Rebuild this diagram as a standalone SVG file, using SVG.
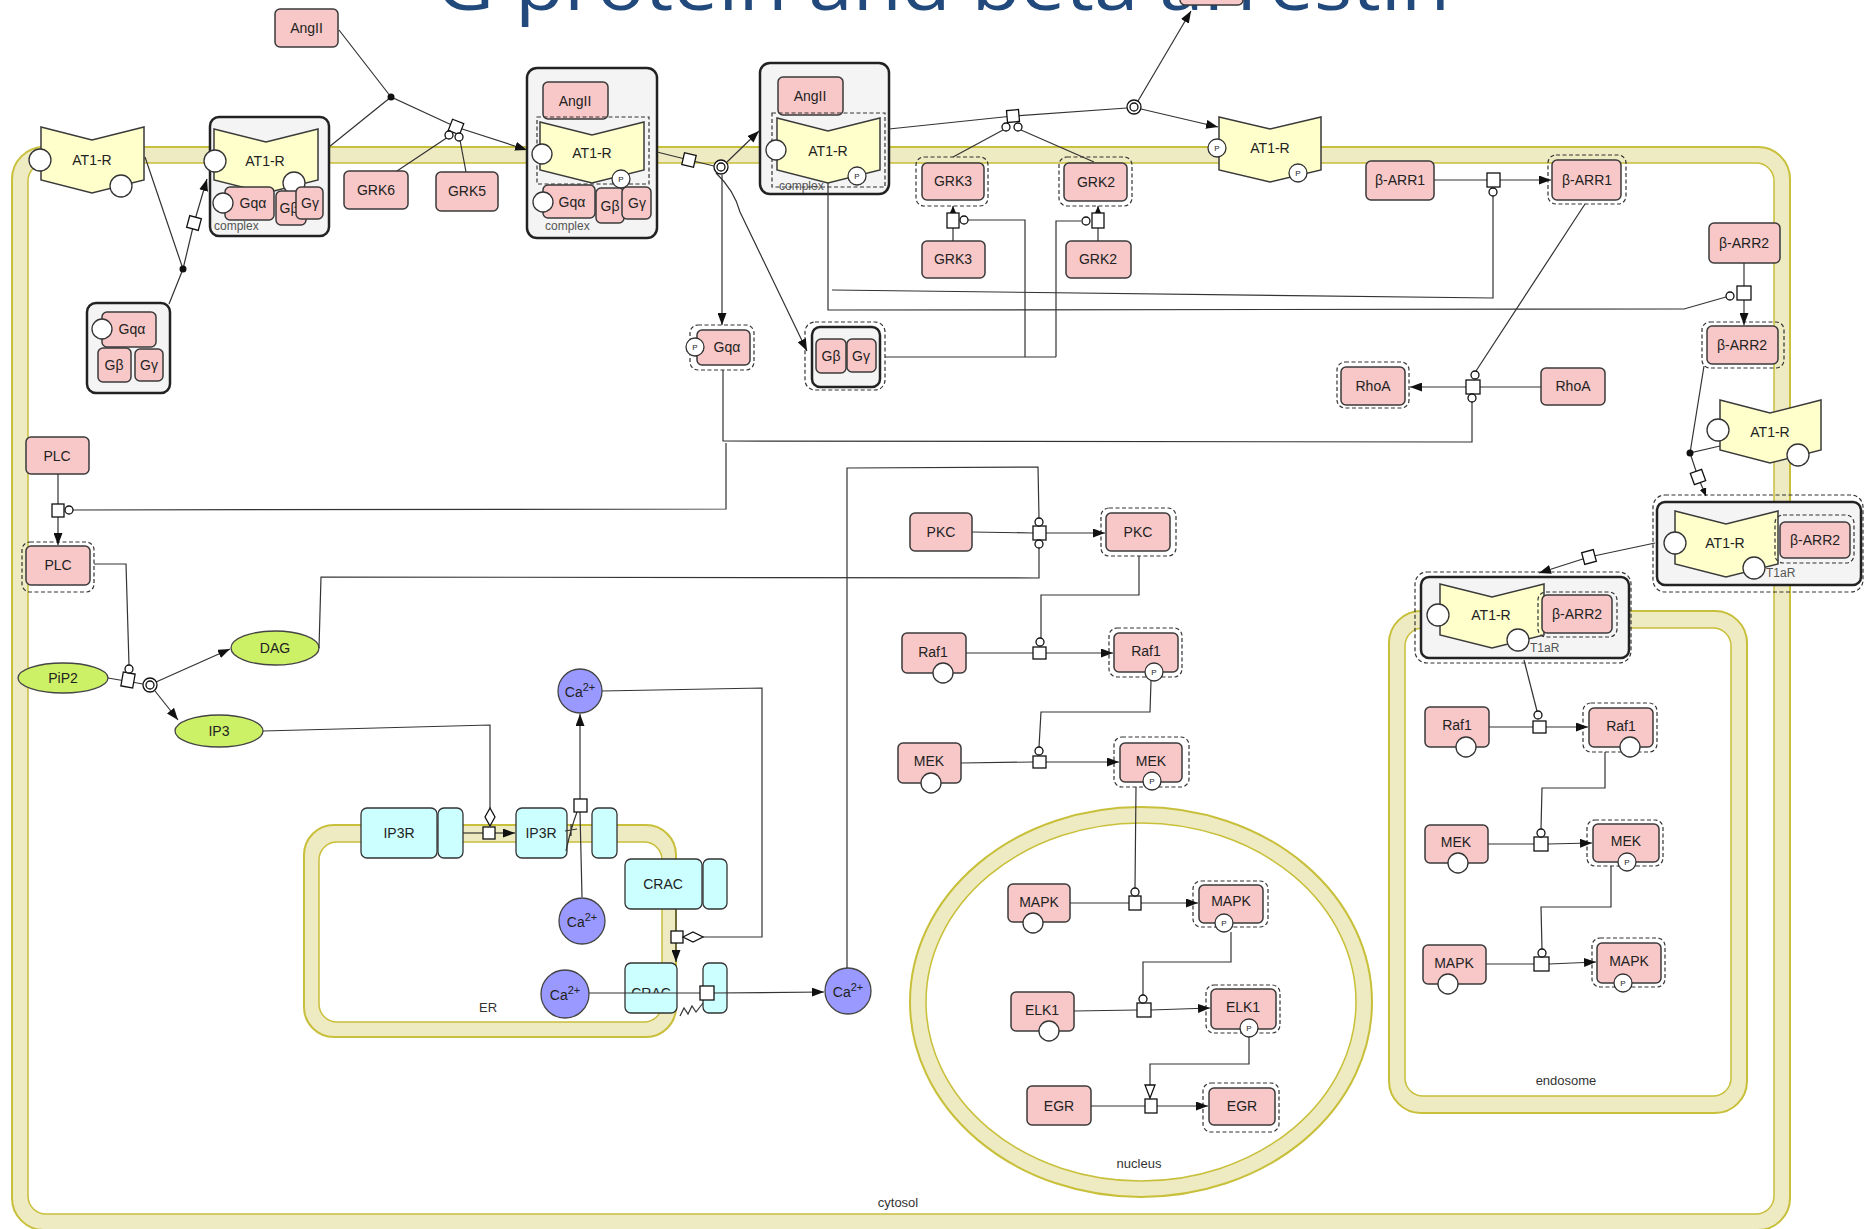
<svg xmlns="http://www.w3.org/2000/svg" width="1866" height="1229" viewBox="0 0 1866 1229">
<defs>
<style>
.mo{fill:#EEEBC2;stroke:#C8BF3A;stroke-width:2}
.mi{fill:#fff;stroke:#C8BF3A;stroke-width:1.5}
.mm{fill:#F8C8C8;stroke:#3a3a3a;stroke-width:1.5}
.act{fill:none;stroke:#333;stroke-width:1.2;stroke-dasharray:4 2.5}
.rec{fill:#FFFFCC;stroke:#3a3a3a;stroke-width:1.5}
.cx{fill:#F4F4F4;stroke:#222;stroke-width:2.5}
.ch{fill:#CCFFFF;stroke:#333;stroke-width:1.3}
.sm{fill:#CCF066;stroke:#444;stroke-width:1.3}
.ion{fill:#9999FF;stroke:#444;stroke-width:1.3}
.sv{fill:#fff;stroke:#333;stroke-width:1.3}
.ln{fill:none;stroke:#333;stroke-width:1.2}
.pn{fill:#fff;stroke:#111;stroke-width:1.3}
.dot{fill:#111}
.t{font-family:"Liberation Sans",Arial,sans-serif;font-size:14px;fill:#222;text-anchor:middle}
.ts{font-family:"Liberation Sans",Arial,sans-serif;font-size:12px;fill:#555}
.tp{font-family:"Liberation Sans",Arial,sans-serif;font-size:8px;fill:#222;text-anchor:middle}
.tc{font-family:"Liberation Sans",Arial,sans-serif;font-size:13px;fill:#333;text-anchor:middle}
</style>
<marker id="arr" viewBox="0 0 12 9" refX="12" refY="4.5" markerWidth="12" markerHeight="9" markerUnits="userSpaceOnUse" orient="auto"><path d="M0,0 L12,4.5 L0,9 z" fill="#111"/></marker>
<marker id="arrs" viewBox="0 0 8 7" refX="8" refY="3.5" markerWidth="8" markerHeight="7" markerUnits="userSpaceOnUse" orient="auto"><path d="M0,0 L8,3.5 L0,7 z" fill="#111"/></marker>
<clipPath id="cracclip"><rect x="620" y="960" width="60" height="33"/></clipPath>
</defs>
<rect width="1866" height="1229" fill="#fff"/>

<text x="436" y="10" font-family="Open Sans, Liberation Sans, sans-serif" font-size="72" fill="#21497C" textLength="1014" lengthAdjust="spacingAndGlyphs">G protein and beta arrestin</text>

<g id="compartments">
<g id="cytosol"><rect class="mo" x="12" y="147" width="1778" height="1083" rx="32"/><rect class="mi" x="28" y="163" width="1746" height="1051" rx="18"/><text class="tc" x="898" y="1207">cytosol</text></g>
<g id="er"><rect class="mo" x="304" y="825" width="372" height="212" rx="30"/><rect class="mi" x="319" y="842" width="343" height="180" rx="18"/><text class="tc" x="488" y="1012">ER</text></g>
<g id="nucleus"><ellipse class="mo" cx="1141" cy="1002" rx="231" ry="195"/><ellipse class="mi" cx="1141" cy="1002" rx="215" ry="179"/><text class="tc" x="1139" y="1168">nucleus</text></g>
<g id="endosome"><rect class="mo" x="1389" y="611" width="358" height="502" rx="32"/><rect class="mi" x="1405" y="628" width="326" height="468" rx="18"/><text class="tc" x="1566" y="1085">endosome</text></g>
</g>

<g id="nodes">
<g id="angII_1"><rect class="mm" x="275" y="9" width="63" height="38" rx="5"/><text class="t" x="306.5" y="33">AngII</text></g>
<g id="at1r_1"><polygon class="rec" points="41,127 92,140 144,127 144,180 92,193 41,180"/><text class="t" x="92" y="165">AT1-R</text><circle class="sv" cx="40" cy="160" r="11"/><circle class="sv" cx="121" cy="186" r="11"/></g>
<g id="complex_1"><rect class="cx" x="210" y="117" width="119" height="119" rx="9"/><text class="ts" x="214" y="230">complex</text>
<polygon class="rec" points="214,129 266,142 318,129 318,180 266,193 214,180"/><text class="t" x="265" y="166">AT1-R</text><circle class="sv" cx="215" cy="161" r="11"/><circle class="sv" cx="294" cy="183" r="11"/>
<rect class="mm" x="276" y="191" width="30" height="34" rx="5"/><text class="t" x="289" y="213">Gβ</text>
<rect class="mm" x="296" y="187" width="27" height="32" rx="5"/><text class="t" x="310" y="208">Gγ</text>
<rect class="mm" x="225" y="187" width="49" height="33" rx="5"/><text class="t" x="253" y="208">Gqα</text><circle class="sv" cx="223" cy="203" r="10"/></g>
<g id="complex_gq"><rect class="cx" x="87" y="303" width="83" height="90" rx="9"/>
<rect class="mm" x="102" y="312" width="54" height="35" rx="5"/><text class="t" x="132" y="334">Gqα</text><circle class="sv" cx="102" cy="329" r="10"/>
<rect class="mm" x="98" y="348" width="33" height="34" rx="5"/><text class="t" x="114" y="370">Gβ</text>
<rect class="mm" x="135" y="349" width="28" height="32" rx="5"/><text class="t" x="149" y="370">Gγ</text></g>
<g id="grk6"><rect class="mm" x="344" y="171" width="64" height="38" rx="5"/><text class="t" x="376" y="195">GRK6</text></g>
<g id="grk5"><rect class="mm" x="436" y="172" width="62" height="39" rx="5"/><text class="t" x="467" y="196">GRK5</text></g>
<g id="complex_2"><rect class="cx" x="527" y="68" width="130" height="170" rx="10"/><text class="ts" x="545" y="230">complex</text>
<rect class="mm" x="543" y="82" width="65" height="37" rx="5"/><text class="t" x="575" y="106">AngII</text>
<rect class="act" x="537" y="117" width="112" height="67"/>
<polygon class="rec" points="540,122 592,135 644,122 644,170 592,183 540,170"/><text class="t" x="592" y="158">AT1-R</text><circle class="sv" cx="542" cy="154" r="10"/><circle class="sv" cx="621" cy="179" r="9"/><text class="tp" x="621" y="182">P</text>
<rect class="mm" x="596" y="188" width="28" height="35" rx="5"/><text class="t" x="610" y="211">Gβ</text>
<rect class="mm" x="622" y="187" width="29" height="32" rx="5"/><text class="t" x="637" y="208">Gγ</text>
<rect class="mm" x="543" y="185" width="52" height="33" rx="5"/><text class="t" x="572" y="207">Gqα</text><circle class="sv" cx="543" cy="202" r="10"/></g>
<g id="complex_3"><rect class="cx" x="760" y="63" width="129" height="131" rx="10"/><text class="ts" x="779" y="190">complex</text>
<rect class="mm" x="778" y="77" width="65" height="38" rx="5"/><text class="t" x="810" y="101">AngII</text>
<rect class="act" x="772" y="113" width="113" height="74"/>
<polygon class="rec" points="777,118 828,131 880,118 880,170 828,183 777,170"/><text class="t" x="828" y="156">AT1-R</text><circle class="sv" cx="776" cy="150" r="10"/><circle class="sv" cx="857" cy="176" r="9"/><text class="tp" x="857" y="179">P</text></g>
<g id="gqa_p"><rect class="act" x="690" y="325" width="64" height="45" rx="8"/><rect class="mm" x="697" y="330" width="53" height="35" rx="5"/><text class="t" x="727" y="352">Gqα</text><circle class="sv" cx="695" cy="347" r="9"/><text class="tp" x="695" y="350">P</text></g>
<g id="gbg"><rect class="act" x="805" y="322" width="80" height="68" rx="10"/><rect class="cx" x="812" y="327" width="68" height="60" rx="8"/><rect class="mm" x="816" y="339" width="30" height="34" rx="5"/><text class="t" x="831" y="361">Gβ</text><rect class="mm" x="847" y="339" width="29" height="33" rx="5"/><text class="t" x="861" y="361">Gγ</text></g>
<g id="grk3_a"><rect class="act" x="916" y="157" width="72" height="49" rx="8"/><rect class="mm" x="922" y="163" width="62" height="37" rx="5"/><text class="t" x="953" y="186">GRK3</text></g>
<g id="grk3"><rect class="mm" x="922" y="241" width="63" height="37" rx="5"/><text class="t" x="953" y="264">GRK3</text></g>
<g id="grk2_a"><rect class="act" x="1059" y="157" width="73" height="49" rx="8"/><rect class="mm" x="1064" y="163" width="63" height="38" rx="5"/><text class="t" x="1096" y="187">GRK2</text></g>
<g id="grk2"><rect class="mm" x="1066" y="241" width="65" height="37" rx="5"/><text class="t" x="1098" y="264">GRK2</text></g>
<g id="angII_top"><rect class="mm" x="1180" y="-33" width="63" height="38" rx="5"/></g>
<g id="at1r_p"><polygon class="rec" points="1219,117 1270,129 1321,117 1321,170 1270,182 1219,170"/><text class="t" x="1270" y="153">AT1-R</text><circle class="sv" cx="1217" cy="148" r="9"/><text class="tp" x="1217" y="151">P</text><circle class="sv" cx="1298" cy="173" r="9"/><text class="tp" x="1298" y="176">P</text></g>
<g id="barr1"><rect class="mm" x="1366" y="161" width="68" height="39" rx="5"/><text class="t" x="1400" y="185">β-ARR1</text></g>
<g id="barr1_a"><rect class="act" x="1548" y="155" width="78" height="49" rx="8"/><rect class="mm" x="1552" y="160" width="69" height="40" rx="5"/><text class="t" x="1587" y="185">β-ARR1</text></g>
<g id="barr2"><rect class="mm" x="1709" y="223" width="71" height="40" rx="5"/><text class="t" x="1744" y="248">β-ARR2</text></g>
<g id="barr2_a"><rect class="act" x="1702" y="322" width="82" height="46" rx="8"/><rect class="mm" x="1707" y="326" width="71" height="38" rx="5"/><text class="t" x="1742" y="350">β-ARR2</text></g>
<g id="rhoa_a"><rect class="act" x="1337" y="362" width="72" height="46" rx="8"/><rect class="mm" x="1341" y="367" width="64" height="38" rx="5"/><text class="t" x="1373" y="391">RhoA</text></g>
<g id="rhoa"><rect class="mm" x="1541" y="368" width="64" height="37" rx="5"/><text class="t" x="1573" y="391">RhoA</text></g>
<g id="at1r_2"><polygon class="rec" points="1720,400 1770,413 1821,400 1821,450 1770,463 1720,450"/><text class="t" x="1770" y="437">AT1-R</text><circle class="sv" cx="1718" cy="430" r="11"/><circle class="sv" cx="1798" cy="455" r="11"/></g>
<g id="complex_r"><rect class="act" x="1653" y="495" width="210" height="97" rx="12"/><rect class="cx" x="1657" y="502" width="204" height="83" rx="8"/><text class="ts" x="1766" y="577">T1aR</text>
<polygon class="rec" points="1675,511 1726,524 1778,511 1778,564 1726,577 1675,564"/><text class="t" x="1725" y="548">AT1-R</text><circle class="sv" cx="1675" cy="543" r="11"/><circle class="sv" cx="1754" cy="568" r="11"/>
<rect class="act" x="1775" y="515" width="79" height="48" rx="8"/><rect class="mm" x="1780" y="522" width="70" height="36" rx="5"/><text class="t" x="1815" y="545">β-ARR2</text></g>
<g id="complex_l"><rect class="act" x="1415" y="572" width="216" height="91" rx="12"/><rect class="cx" x="1421" y="577" width="208" height="81" rx="8"/><text class="ts" x="1530" y="652">T1aR</text>
<polygon class="rec" points="1440,584 1492,597 1544,584 1544,635 1492,648 1440,635"/><text class="t" x="1491" y="620">AT1-R</text><circle class="sv" cx="1438" cy="615" r="11"/><circle class="sv" cx="1518" cy="640" r="11"/>
<rect class="act" x="1538" y="592" width="79" height="45" rx="8"/><rect class="mm" x="1542" y="595" width="70" height="38" rx="5"/><text class="t" x="1577" y="619">β-ARR2</text></g>
<g id="plc"><rect class="mm" x="26" y="437" width="63" height="37" rx="5"/><text class="t" x="57" y="461">PLC</text></g>
<g id="plc_a"><rect class="act" x="22" y="542" width="72" height="50" rx="8"/><rect class="mm" x="26" y="546" width="64" height="39" rx="5"/><text class="t" x="58" y="570">PLC</text></g>
<g id="pip2"><ellipse class="sm" cx="63" cy="678" rx="45" ry="15"/><text class="t" x="63" y="683">PiP2</text></g>
<g id="dag"><ellipse class="sm" cx="275" cy="648" rx="44" ry="17"/><text class="t" x="275" y="653">DAG</text></g>
<g id="ip3"><ellipse class="sm" cx="219" cy="731" rx="44" ry="16"/><text class="t" x="219" y="736">IP3</text></g>
<g id="ca_c1"><circle class="ion" cx="580" cy="691" r="22"/><text class="t" x="580" y="697">Ca<tspan dy="-6" font-size="11">2+</tspan></text></g>
<g id="ip3r_1"><rect class="ch" x="361" y="808" width="76" height="50" rx="6"/><rect class="ch" x="438" y="808" width="25" height="50" rx="6"/><text class="t" x="399" y="838">IP3R</text></g>
<g id="ip3r_2"><rect class="ch" x="516" y="808" width="51" height="50" rx="6"/><rect class="ch" x="592" y="808" width="25" height="50" rx="6"/><text class="t" x="541" y="838">IP3R</text></g>
<g id="ca_er1"><circle class="ion" cx="582" cy="921" r="23"/><text class="t" x="582" y="927">Ca<tspan dy="-6" font-size="11">2+</tspan></text></g>
<g id="crac_1"><rect class="ch" x="625" y="859" width="77" height="50" rx="6"/><rect class="ch" x="703" y="859" width="24" height="50" rx="6"/><text class="t" x="663" y="889">CRAC</text></g>
<g id="crac_2"><rect class="ch" x="625" y="963" width="52" height="50" rx="6"/><rect class="ch" x="703" y="963" width="24" height="50" rx="6"/><text class="t" x="651" y="998" clip-path="url(#cracclip)">CRAC</text></g>
<g id="ca_er2"><circle class="ion" cx="565" cy="994" r="24"/><text class="t" x="565" y="1000">Ca<tspan dy="-6" font-size="11">2+</tspan></text></g>
<g id="ca_c2"><circle class="ion" cx="848" cy="991" r="23"/><text class="t" x="848" y="997">Ca<tspan dy="-6" font-size="11">2+</tspan></text></g>
<g id="pkc"><rect class="mm" x="910" y="513" width="62" height="38" rx="5"/><text class="t" x="941" y="537">PKC</text></g>
<g id="pkc_a"><rect class="act" x="1101" y="508" width="75" height="48" rx="8"/><rect class="mm" x="1106" y="513" width="64" height="38" rx="5"/><text class="t" x="1138" y="537">PKC</text></g>
<g id="raf1"><rect class="mm" x="902" y="633" width="64" height="40" rx="5"/><text class="t" x="933" y="657">Raf1</text><circle class="sv" cx="943" cy="673" r="10"/></g>
<g id="raf1_a"><rect class="act" x="1109" y="628" width="73" height="49" rx="8"/><rect class="mm" x="1114" y="633" width="64" height="39" rx="5"/><text class="t" x="1146" y="656">Raf1</text><circle class="sv" cx="1154" cy="672" r="9"/><text class="tp" x="1154" y="675">P</text></g>
<g id="mek"><rect class="mm" x="898" y="743" width="63" height="40" rx="5"/><text class="t" x="929" y="766">MEK</text><circle class="sv" cx="931" cy="783" r="10"/></g>
<g id="mek_a"><rect class="act" x="1114" y="737" width="75" height="50" rx="8"/><rect class="mm" x="1120" y="743" width="62" height="39" rx="5"/><text class="t" x="1151" y="766">MEK</text><circle class="sv" cx="1152" cy="781" r="9"/><text class="tp" x="1152" y="784">P</text></g>
<g id="mapk_n"><rect class="mm" x="1008" y="884" width="62" height="38" rx="5"/><text class="t" x="1039" y="907">MAPK</text><circle class="sv" cx="1033" cy="923" r="10"/></g>
<g id="mapk_na"><rect class="act" x="1193" y="881" width="75" height="46" rx="8"/><rect class="mm" x="1199" y="885" width="64" height="38" rx="5"/><text class="t" x="1231" y="906">MAPK</text><circle class="sv" cx="1224" cy="923" r="9"/><text class="tp" x="1224" y="926">P</text></g>
<g id="elk1"><rect class="mm" x="1011" y="992" width="63" height="39" rx="5"/><text class="t" x="1042" y="1015">ELK1</text><circle class="sv" cx="1049" cy="1031" r="10"/></g>
<g id="elk1_a"><rect class="act" x="1206" y="985" width="74" height="48" rx="8"/><rect class="mm" x="1211" y="989" width="65" height="40" rx="5"/><text class="t" x="1243" y="1012">ELK1</text><circle class="sv" cx="1249" cy="1028" r="9"/><text class="tp" x="1249" y="1031">P</text></g>
<g id="egr"><rect class="mm" x="1027" y="1086" width="64" height="39" rx="5"/><text class="t" x="1059" y="1111">EGR</text></g>
<g id="egr_a"><rect class="act" x="1203" y="1083" width="76" height="49" rx="8"/><rect class="mm" x="1209" y="1088" width="66" height="37" rx="5"/><text class="t" x="1242" y="1111">EGR</text></g>
<g id="raf1_e"><rect class="mm" x="1425" y="707" width="64" height="40" rx="5"/><text class="t" x="1457" y="730">Raf1</text><circle class="sv" cx="1466" cy="747" r="10"/></g>
<g id="raf1_ea"><rect class="act" x="1583" y="703" width="74" height="49" rx="8"/><rect class="mm" x="1589" y="708" width="64" height="39" rx="5"/><text class="t" x="1621" y="731">Raf1</text><circle class="sv" cx="1630" cy="747" r="10"/></g>
<g id="mek_e"><rect class="mm" x="1425" y="825" width="63" height="38" rx="5"/><text class="t" x="1456" y="847">MEK</text><circle class="sv" cx="1458" cy="863" r="10"/></g>
<g id="mek_ea"><rect class="act" x="1587" y="820" width="76" height="46" rx="8"/><rect class="mm" x="1593" y="824" width="66" height="38" rx="5"/><text class="t" x="1626" y="846">MEK</text><circle class="sv" cx="1627" cy="862" r="9"/><text class="tp" x="1627" y="865">P</text></g>
<g id="mapk_e"><rect class="mm" x="1423" y="945" width="63" height="39" rx="5"/><text class="t" x="1454" y="968">MAPK</text><circle class="sv" cx="1448" cy="984" r="10"/></g>
<g id="mapk_ea"><rect class="act" x="1592" y="938" width="73" height="49" rx="8"/><rect class="mm" x="1597" y="943" width="64" height="40" rx="5"/><text class="t" x="1629" y="966">MAPK</text><circle class="sv" cx="1623" cy="983" r="9"/><text class="tp" x="1623" y="986">P</text></g>
</g>

<g id="connectors">
<path class="ln" d="M339 30 L391 97 M329 147 L391 97 L456 127"/>
<path class="ln" d="M456 127 L527 150" marker-end="url(#arr)"/>
<path class="ln" d="M397 171 L448 137 M466 172 L460 140"/>
<path class="ln" d="M145 157 L183 269 M169 304 L183 269 L194 223"/>
<path class="ln" d="M194 223 L207 179" marker-end="url(#arr)"/>
<path class="ln" d="M657 152 L689 160 L714 166"/>
<path class="ln" d="M727 162 L759 131" marker-end="url(#arr)"/>
<path class="ln" d="M722 175 L722 325" marker-end="url(#arr)"/>
<path class="ln" d="M716 173 Q734 190 740 212 L807 351" marker-end="url(#arr)"/>
<path class="ln" d="M889 129 L1013 116 L1127 108"/>
<path class="ln" d="M1138 101 L1191 11" marker-end="url(#arr)"/>
<path class="ln" d="M1141 109 L1218 127" marker-end="url(#arr)"/>
<path class="ln" d="M953 157 L1003 130 M1094 162 L1021 130"/>
<path class="ln" d="M953 241 L953 227 M1098 241 L1098 227"/>
<path class="ln" d="M953 213 L953 206" marker-end="url(#arrs)"/>
<path class="ln" d="M1098 213 L1098 206" marker-end="url(#arrs)"/>
<path class="ln" d="M885 357 L1056 357 M1025 357 L1025 220 L968 220 M1056 357 L1056 221 L1081 221"/>
<path class="ln" d="M1434 180 L1487 180"/>
<path class="ln" d="M1500 180 L1551 180" marker-end="url(#arr)"/>
<path class="ln" d="M1493 196 L1493 298 L832 290 M828 183 L828 310 L1684 309 L1726 297"/>
<path class="ln" d="M1744 263 L1744 287"/>
<path class="ln" d="M1744 300 L1744 325" marker-end="url(#arr)"/>
<path class="ln" d="M1541 387 L1480 387"/>
<path class="ln" d="M1466 387 L1410 387" marker-end="url(#arr)"/>
<path class="ln" d="M1585 204 L1476 371 M1472 402 L1472 442 L723 441 L723 370 M726 443 L726 509 L73 510"/>
<path class="ln" d="M1704 366 L1690 453 M1720 446 L1690 453 L1698 477"/>
<path class="ln" d="M1698 477 L1706 496" marker-end="url(#arrs)"/>
<path class="ln" d="M1655 543 L1589 557"/>
<path class="ln" d="M1589 557 L1539 573" marker-end="url(#arr)"/>
<path class="ln" d="M1524 660 L1537 711"/>
<path class="ln" d="M58 474 L58 504"/>
<path class="ln" d="M58 517 L58 545" marker-end="url(#arr)"/>
<path class="ln" d="M94 564 L126 564 L129 665"/>
<path class="ln" d="M108 678 L143 684"/>
<path class="ln" d="M156 682 L230 649" marker-end="url(#arr)"/>
<path class="ln" d="M155 691 L178 720" marker-end="url(#arr)"/>
<path class="ln" d="M319 648 L321 577 L1039 578 L1039 548"/>
<path class="ln" d="M263 731 L490 725 L490 808"/>
<path class="ln" d="M463 833 L483 833"/>
<path class="ln" d="M495 833 L515 833" marker-end="url(#arr)"/>
<path class="ln" d="M582 897 L580 812"/>
<path class="ln" d="M580 799 L580 714" marker-end="url(#arr)"/>
<path class="ln" d="M566 851 Q571 828 577 812 M565 831 L577 829 M571 824 L571 836"/>
<path class="ln" d="M602 691 L762 688 L762 937 L703 937"/>
<path class="ln" d="M676 909 L676 931"/>
<path class="ln" d="M676 943 L676 962" marker-end="url(#arr)"/>
<path class="ln" d="M589 993 L700 993"/>
<path class="ln" d="M714 993 L824 992" marker-end="url(#arr)"/>
<path class="ln" d="M680 1016 L684 1008 L688 1014 L692 1006 L696 1012 L703 1003"/>
<path class="ln" d="M847 968 L847 468 L1038 467 L1039 518"/>
<path class="ln" d="M972 532 L1033 533 M966 653 L1033 653 M961 763 L1033 762"/>
<path class="ln" d="M1046 533 L1105 533" marker-end="url(#arr)"/>
<path class="ln" d="M1046 653 L1113 653" marker-end="url(#arr)"/>
<path class="ln" d="M1046 762 L1119 762" marker-end="url(#arr)"/>
<path class="ln" d="M1139 556 L1139 595 L1041 595 L1041 638 M1151 681 L1150 712 L1041 712 L1039 747 M1136 787 L1135 888"/>
<path class="ln" d="M1070 903 L1129 903 M1074 1011 L1137 1010 M1091 1106 L1145 1106"/>
<path class="ln" d="M1141 903 L1198 903" marker-end="url(#arr)"/>
<path class="ln" d="M1151 1010 L1210 1008" marker-end="url(#arr)"/>
<path class="ln" d="M1157 1106 L1208 1106" marker-end="url(#arr)"/>
<path class="ln" d="M1231 932 L1231 962 L1143 962 L1143 995 M1249 1037 L1249 1064 L1150 1064 L1150 1085"/>
<path class="ln" d="M1489 727 L1533 727 M1488 844 L1534 844 M1486 964 L1534 964"/>
<path class="ln" d="M1546 727 L1588 727" marker-end="url(#arr)"/>
<path class="ln" d="M1548 844 L1592 843" marker-end="url(#arr)"/>
<path class="ln" d="M1549 964 L1596 962" marker-end="url(#arr)"/>
<path class="ln" d="M1605 752 L1605 788 L1542 788 L1541 829 M1611 866 L1611 907 L1541 907 L1542 949"/>
</g>

<g id="process_nodes">
<rect class="pn" x="-6" y="-6" width="12" height="12" transform="translate(456,127) rotate(21)"/>
<rect class="pn" x="-6" y="-6" width="12" height="12" transform="translate(194,223) rotate(-75)"/>
<rect class="pn" x="-6" y="-6" width="12" height="12" transform="translate(689,160) rotate(13)"/>
<rect class="pn" x="-6" y="-6" width="12" height="12" transform="translate(1013,116) rotate(-5)"/>
<rect class="pn" x="947" y="213" width="12" height="15"/>
<rect class="pn" x="1092" y="213" width="12" height="15"/>
<rect class="pn" x="1487" y="173" width="13" height="14"/>
<rect class="pn" x="1737" y="286" width="14" height="14"/>
<rect class="pn" x="1466" y="380" width="14" height="14"/>
<rect class="pn" x="-6" y="-6" width="12" height="12" transform="translate(1698,477) rotate(70)"/>
<rect class="pn" x="-6" y="-6" width="12" height="12" transform="translate(1589,557) rotate(-15)"/>
<rect class="pn" x="52" y="504" width="12" height="13"/>
<rect class="pn" x="-6" y="-7" width="12" height="14" transform="translate(128,680) rotate(10)"/>
<rect class="pn" x="483" y="827" width="12" height="12"/>
<rect class="pn" x="574" y="799" width="13" height="13"/>
<rect class="pn" x="671" y="931" width="12" height="12"/>
<rect class="pn" x="700" y="986" width="14" height="14"/>
<rect class="pn" x="1033" y="526" width="13" height="14"/>
<rect class="pn" x="1033" y="647" width="13" height="12"/>
<rect class="pn" x="1033" y="756" width="13" height="12"/>
<rect class="pn" x="1129" y="896" width="12" height="14"/>
<rect class="pn" x="1137" y="1003" width="14" height="14"/>
<rect class="pn" x="1145" y="1099" width="12" height="14"/>
<rect class="pn" x="1533" y="721" width="13" height="12"/>
<rect class="pn" x="1534" y="837" width="14" height="14"/>
<rect class="pn" x="1534" y="957" width="15" height="14"/>
<g id="catalysis_ends">
<circle class="pn" cx="449" cy="135" r="4"/><circle class="pn" cx="459" cy="137" r="4"/>
<circle class="pn" cx="1006" cy="127" r="4"/><circle class="pn" cx="1018" cy="127" r="4"/>
<circle class="pn" cx="964" cy="220" r="4"/><circle class="pn" cx="1086" cy="221" r="4"/>
<circle class="pn" cx="1493" cy="192" r="4"/><circle class="pn" cx="1730" cy="296" r="4"/>
<circle class="pn" cx="1475" cy="375" r="4"/><circle class="pn" cx="1472" cy="398" r="4"/>
<circle class="pn" cx="69" cy="510" r="4"/><circle class="pn" cx="129" cy="669" r="4"/>
<circle class="pn" cx="1039" cy="522" r="4"/><circle class="pn" cx="1039" cy="544" r="4"/>
<circle class="pn" cx="1040" cy="642" r="4"/><circle class="pn" cx="1039" cy="751" r="4"/>
<circle class="pn" cx="1135" cy="892" r="4"/><circle class="pn" cx="1143" cy="999" r="4"/>
<circle class="pn" cx="1538" cy="715" r="4"/><circle class="pn" cx="1541" cy="833" r="4"/><circle class="pn" cx="1542" cy="953" r="4"/>
<polygon class="pn" points="490,808 495,817 490,826 485,817"/>
<polygon class="pn" points="683,937 693,932 703,937 693,942"/>
<polygon class="pn" points="1145,1085 1155,1085 1150,1098"/>
</g>
<g id="assoc_dissoc">
<circle class="dot" cx="391" cy="97" r="3.5"/><circle class="dot" cx="183" cy="269" r="3.5"/><circle class="dot" cx="1690" cy="453" r="3.5"/>
<circle class="pn" cx="721" cy="167" r="7"/><circle class="pn" cx="721" cy="167" r="4"/>
<circle class="pn" cx="1134" cy="107" r="7"/><circle class="pn" cx="1134" cy="107" r="4"/>
<circle class="pn" cx="150" cy="685" r="7"/><circle class="pn" cx="150" cy="685" r="4"/>
</g>
</g>
</svg>
